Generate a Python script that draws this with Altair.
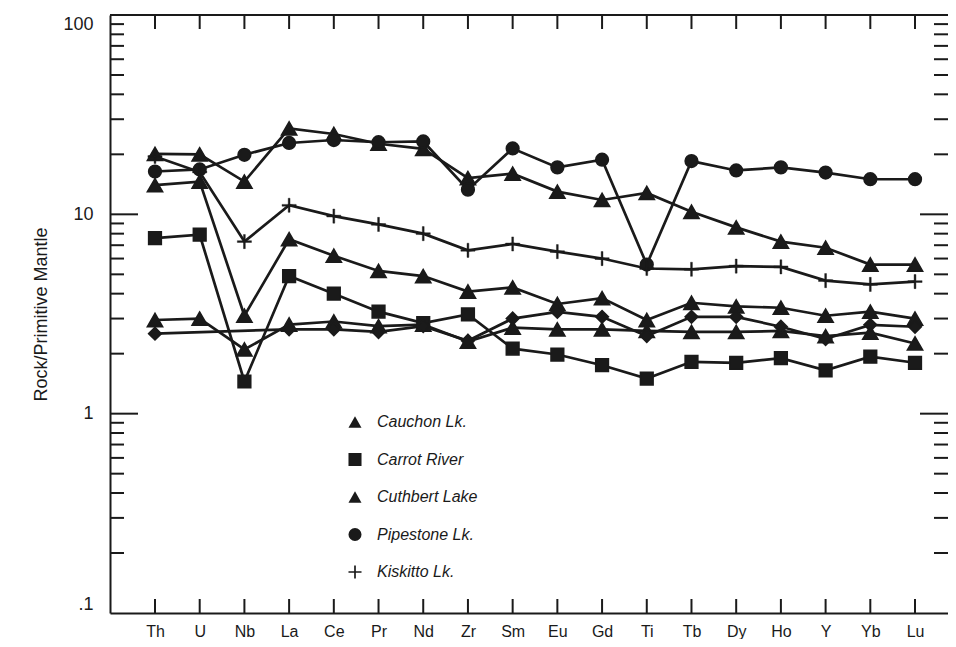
import altair as alt
import pandas as pd

# ---------------- data ----------------
elements = ["Th", "U", "Nb", "La", "Ce", "Pr", "Nd", "Zr", "Sm", "Eu",
            "Gd", "Ti", "Tb", "Dy", "Ho", "Y", "Yb", "Lu"]

cauchon_a = [20.1, 20.0, 14.6, 27.0, 25.3, 22.6, 21.3, 15.2, 16.0, 13.0,
             11.8, 12.8, 10.3, 8.6, 7.3, 6.8, 5.6, 5.6]
cauchon_b = [2.95, 3.0, 2.1, 2.8, 2.9, 2.75, 2.8, 2.3, 2.7, 2.65,
             2.65, 2.6, 2.57, 2.57, 2.6, 2.45, 2.55, 2.25]
carrot = [7.6, 7.9, 1.45, 4.9, 4.0, 3.25, 2.85, 3.15, 2.12, 1.98,
          1.75, 1.5, 1.82, 1.8, 1.9, 1.65, 1.93, 1.8]
cuthbert = [14.0, 14.6, 3.1, 7.5, 6.2, 5.2, 4.9, 4.1, 4.3, 3.55,
            3.8, 2.95, 3.6, 3.45, 3.4, 3.1, 3.25, 3.0]
pipestone = [16.4, 16.8, 19.9, 22.8, 23.6, 23.0, 23.2, 13.3, 21.4, 17.2,
             18.8, 5.6, 18.5, 16.6, 17.2, 16.2, 15.0, 15.0]
kiskitto = [19.5, 16.3, 7.3, 11.1, 9.8, 8.9, 8.0, 6.6, 7.1, 6.5,
            6.0, 5.35, 5.3, 5.5, 5.45, 4.65, 4.45, 4.6]
other = [2.52, None, None, 2.65, 2.65, 2.57, 2.75, 2.32, 3.0, 3.24,
         3.06, 2.45, 3.06, 3.06, 2.73, 2.37, 2.79, 2.73]

series = [
    ("Cauchon Lk. A", "Cauchon Lk.", cauchon_a),
    ("Cauchon Lk. B", "Cauchon Lk.", cauchon_b),
    ("Carrot River", "Carrot River", carrot),
    ("Cuthbert Lake", "Cuthbert Lake", cuthbert),
    ("Pipestone Lk.", "Pipestone Lk.", pipestone),
    ("Kiskitto Lk.", "Kiskitto Lk.", kiskitto),
    ("Other", "Other", other),
]

legend_sites = ["Cauchon Lk.", "Carrot River", "Cuthbert Lake",
                "Pipestone Lk.", "Kiskitto Lk."]
all_sites = legend_sites + ["Other"]

minor_ticks = [0.2, 0.3, 0.4, 0.5, 0.6, 0.7, 0.8, 0.9,
               2, 3, 4, 5, 6, 7, 8, 9,
               20, 30, 40, 50, 60, 70, 80, 90]
major_ticks = [1, 10]
y_label_values = [0.1, 1, 10, 100]

marker_group = {"Cauchon Lk.": "tri", "Cuthbert Lake": "tri",
                "Kiskitto Lk.": "cross"}

rows = []
for name, site, vals in series:
    for i, (el, v) in enumerate(zip(elements, vals)):
        if v is None:
            continue
        rows.append({"series": name, "site": site, "element": el,
                     "idx": i, "value": v,
                     "grp": marker_group.get(site, "rest")})
df = pd.DataFrame(rows)

# ---------------- styling ----------------
W, H = 838, 598
FONT = "Liberation Sans"
INK = "#1a1a1a"
t = 0.13
PLUS = (f"M-1,-{t}L-{t},-{t}L-{t},-1L{t},-1L{t},-{t}L1,-{t}L1,{t}"
        f"L{t},{t}L{t},1L-{t},1L-{t},{t}L-1,{t}Z")

xscale = alt.Scale(type="point", domain=elements, padding=0.872, align=0.577)
yscale = alt.Scale(type="log", domain=[0.1, 100])

shape_scale = alt.Scale(domain=all_sites,
                        range=["triangle-up", "square", "triangle-up",
                               "circle", PLUS, "diamond"])

x_axis = alt.Axis(title=None, labelAngle=0, ticks=False,
                  domain=True, domainColor=INK, domainWidth=2,
                  labelFont=FONT, labelFontSize=16,
                  labelColor=INK, labelPadding=10, grid=False)
y_axis = alt.Axis(title="Rock/Primitive Mantle",
                  values=y_label_values,
                  labelExpr="datum.value < 1 ? '.1' : format(datum.value, 'd')",
                  labelFlush=True,
                  ticks=False, domain=True, domainColor=INK,
                  domainWidth=2, grid=False,
                  labelFont=FONT, labelFontSize=18,
                  labelColor=INK, labelPadding=17,
                  titleFont=FONT, titleFontSize=18,
                  titleFontWeight="normal", titleColor=INK,
                  titlePadding=12)

def X():
    return alt.X("element:O", scale=xscale, axis=x_axis)

def Y():
    return alt.Y("value:Q", scale=yscale, axis=y_axis)

legend = alt.Legend(values=legend_sites, title=None)

lines = alt.Chart(df).mark_line(color=INK, strokeWidth=2.7).encode(
    x=X(), y=Y(), detail="series:N", order="idx:Q")

def point_layer(group, size, sw):
    return alt.Chart(df).transform_filter(
        f"datum.grp == '{group}'"
    ).mark_point(
        filled=True, fill=INK, stroke=INK, strokeWidth=sw, opacity=1, size=size
    ).encode(
        x=X(), y=Y(),
        shape=alt.Shape("site:N", scale=shape_scale, legend=legend))

points_tri = point_layer("tri", 230, 1.6)
points_rest = point_layer("rest", 160, 1.6)
points_cross = point_layer("cross", 200, 0.4)

minor_df = pd.DataFrame({"value": minor_ticks})
major_df = pd.DataFrame({"value": major_ticks})
el_df = pd.DataFrame({"element": elements})

def yrule(data, x0, x1):
    return alt.Chart(data).mark_rule(color=INK, strokeWidth=2).encode(
        y=Y(), x=alt.value(x0), x2=alt.value(x1))

def xrule(y0, y1):
    return alt.Chart(el_df).mark_rule(color=INK, strokeWidth=2).encode(
        x=X(), y=alt.value(y0), y2=alt.value(y1))

left_minor = yrule(minor_df, 0, 14)
left_major = yrule(major_df, 0, 28)
right_minor = yrule(minor_df, W - 14, W)
right_major = yrule(major_df, W - 28, W)
bottom_ticks = xrule(H - 14, H)
top_ticks = xrule(0, 14)

top_border = alt.Chart(el_df).mark_rule(color=INK, strokeWidth=2).encode(
    y=alt.value(0), x=alt.value(0), x2=alt.value(W))

chart = alt.layer(
    lines, points_tri, points_rest, points_cross,
    left_minor, left_major, right_minor, right_major,
    bottom_ticks, top_ticks, top_border
).properties(
    width=W, height=H,
    padding={"left": 102, "top": 7, "right": 0, "bottom": 26},
    autosize=alt.AutoSizeParams(type="none"),
).configure(
    font=FONT, background="white"
).configure_view(
    stroke="transparent"
).configure_legend(
    orient="none", legendX=237, legendY=399, direction="vertical",
    padding=0, rowPadding=19.5, labelOffset=14,
    labelFont=FONT, labelFontSize=16, labelFontStyle="italic",
    labelColor=INK, symbolSize=170, symbolFillColor=INK,
    symbolStrokeColor=INK, symbolStrokeWidth=1.2, symbolOpacity=1
)

chart.save("out.html", embed_options={"renderer": "svg", "actions": False})
